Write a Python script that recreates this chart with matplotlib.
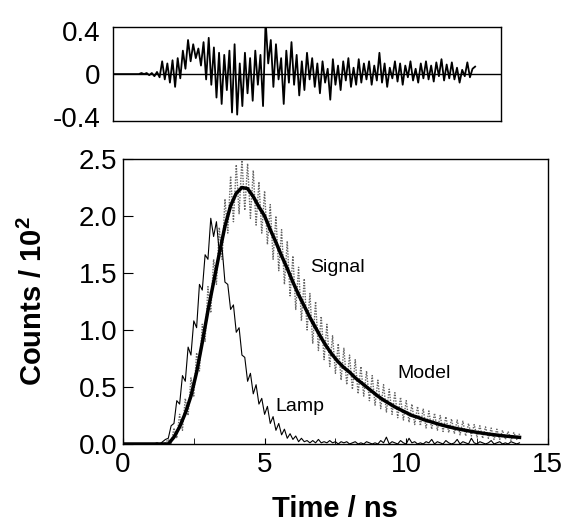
import numpy as np
import matplotlib.pyplot as plt

plt.rcParams['font.family'] = ['Liberation Sans', 'DejaVu Sans']
plt.rcParams['mathtext.fontset'] = 'custom'
plt.rcParams['mathtext.bf'] = 'Liberation Sans:bold'

dt = 0.1  # ns per channel

# lamp profile (counts / 100), one value per 0.1 ns from 0 to 14 ns
lamp = [0, 0, 0, 0, 0, 0, 0, 0, 0, 0,
        0, 0, 0.01, 0, 0.02, 0.04, 0.05, 0.16, 0.18, 0.38,
        0.35, 0.60, 0.55, 0.85, 0.78, 1.08, 1.02, 1.40, 1.35, 1.66,
        1.62, 1.98, 1.82, 1.95, 1.68, 1.72, 1.42, 1.40, 1.18, 1.22,
        0.98, 1.02, 0.78, 0.76, 0.55, 0.62, 0.44, 0.52, 0.35, 0.40,
        0.26, 0.33, 0.18, 0.24, 0.12, 0.18, 0.08, 0.13, 0.05, 0.09,
        0.04, 0.07, 0.02, 0.05, 0.02, 0.03, 0.01, 0.03, 0.01, 0.04,
        0.01, 0.02, 0.01, 0.03, 0.01, 0.02, 0.00, 0.02, 0.01, 0.02,
        0.00, 0.01, 0.02, 0.00, 0.01, 0.00, 0.02, 0.01, 0.00, 0.01,
        0.00, 0.03, 0.01, 0.06, 0.00, 0.02, 0.01, 0.00, 0.03, 0.01,
        0.00, 0.05, 0.01, 0.02, 0.00, 0.01, 0.00, 0.02, 0.01, 0.04,
        0.00, 0.02, 0.01, 0.00, 0.03, 0.01, 0.00, 0.01, 0.04, 0.00,
        0.02, 0.01, 0.00, 0.05, 0.01, 0.00, 0.02, 0.01, 0.00, 0.01,
        0.03, 0.00, 0.01, 0.02, 0.00, 0.01, 0.00, 0.02, 0.01, 0.00,
        0.01]

# measured decay
signal = [0, 0, 0, 0, 0, 0, 0, 0, 0, 0,
          0, 0, 0, 0, 0.01, 0.01, 0.04, 0.00, 0.14, 0.05,
          0.26, 0.12, 0.40, 0.25, 0.58, 0.42, 0.80, 0.64, 1.05, 0.90,
          1.38, 1.15, 1.62, 1.40, 1.90, 1.62, 2.15, 1.85, 2.35, 1.95,
          2.45, 2.02, 2.50, 2.05, 2.46, 1.98, 2.40, 1.92, 2.30, 1.85,
          2.22, 1.75, 2.10, 1.62, 2.00, 1.52, 1.88, 1.40, 1.78, 1.30,
          1.65, 1.18, 1.55, 1.08, 1.45, 1.00, 1.32, 0.88, 1.25, 0.82,
          1.12, 0.74, 1.05, 0.68, 0.95, 0.62, 0.88, 0.56, 0.84, 0.52,
          0.78, 0.48, 0.74, 0.44, 0.68, 0.42, 0.64, 0.38, 0.60, 0.34,
          0.56, 0.31, 0.52, 0.28, 0.48, 0.26, 0.45, 0.23, 0.41, 0.21,
          0.38, 0.19, 0.35, 0.17, 0.33, 0.16, 0.31, 0.14, 0.29, 0.13,
          0.27, 0.12, 0.25, 0.11, 0.24, 0.10, 0.22, 0.09, 0.21, 0.08,
          0.20, 0.07, 0.18, 0.07, 0.17, 0.06, 0.16, 0.05, 0.15, 0.05,
          0.14, 0.04, 0.13, 0.04, 0.12, 0.04, 0.11, 0.03, 0.10, 0.04,
          0.09]

# fitted model, one value per 0.2 ns
model_t = [0.0, 0.2, 0.4, 0.6, 0.8, 1.0, 1.2, 1.4, 1.6, 1.8,
           2.0, 2.2, 2.4, 2.6, 2.8, 3.0, 3.2, 3.4, 3.6, 3.8,
           4.0, 4.2, 4.4, 4.6, 4.8, 5.0, 5.2, 5.4, 5.6, 5.8,
           6.0, 6.2, 6.4, 6.6, 6.8, 7.0, 7.2, 7.4, 7.6, 7.8,
           8.0, 8.2, 8.4, 8.6, 8.8, 9.0, 9.2, 9.4, 9.6, 9.8,
           10.0, 10.2, 10.4, 10.6, 10.8, 11.0, 11.2, 11.4, 11.6, 11.8,
           12.0, 12.2, 12.4, 12.6, 12.8, 13.0, 13.2, 13.4, 13.6, 13.8,
           14.0]
model = [0, 0, 0, 0, 0, 0, 0, 0, 0.0, 0.06,
         0.15, 0.27, 0.42, 0.63, 0.89, 1.17, 1.42, 1.67, 1.91, 2.09,
         2.20, 2.25, 2.24, 2.17, 2.08, 2.00, 1.88, 1.77, 1.65, 1.54,
         1.42, 1.31, 1.21, 1.11, 1.02, 0.93, 0.85, 0.78, 0.72, 0.67,
         0.63, 0.58, 0.54, 0.50, 0.46, 0.42, 0.385, 0.355, 0.325, 0.30,
         0.275, 0.25, 0.235, 0.215, 0.20, 0.185, 0.17, 0.157, 0.145, 0.134,
         0.124, 0.115, 0.106, 0.098, 0.091, 0.084, 0.078, 0.072, 0.067, 0.062,
         0.058]

# weighted residuals
resid = [0, 0, 0, 0, 0, 0, 0, 0, 0, 0,
         0, 0.01, 0, 0.01, -0.01, 0.01, -0.02, 0.02, -0.03, 0.12,
         -0.05, 0.10, -0.08, 0.13, -0.12, 0.15, -0.04, 0.22, 0.05, 0.32,
         0.12, 0.28, 0.15, 0.24, 0.08, 0.30, -0.05, 0.34, -0.10, 0.25,
         -0.22, 0.20, -0.28, 0.18, -0.15, 0.22, -0.36, 0.28, -0.38, 0.10,
         -0.30, 0.20, -0.18, 0.15, -0.25, 0.22, -0.10, 0.18, -0.30, 0.50,
         0.10, 0.32, -0.12, 0.28, -0.05, 0.15, -0.28, 0.22, -0.08, 0.30,
         -0.10, 0.18, -0.20, 0.12, -0.15, 0.20, -0.05, 0.15, -0.12, 0.10,
         -0.18, 0.12, -0.08, 0.05, -0.24, 0.14, -0.10, 0.08, -0.15, 0.12,
         -0.06, 0.15, -0.12, 0.06, -0.10, 0.14, -0.08, 0.10, -0.05, 0.12,
         -0.10, 0.08, -0.06, 0.20, -0.08, 0.10, -0.12, 0.06, -0.04, 0.12,
         -0.07, 0.10, -0.10, 0.08, -0.03, 0.12, -0.06, 0.05, -0.08, 0.10,
         -0.04, 0.12, -0.05, 0.08, -0.07, 0.11, -0.02, 0.14, -0.06, 0.09,
         -0.04, 0.11, -0.05, 0.06, -0.08, 0.04, -0.02, 0.11, -0.03, 0.05,
         0.07]

t_lamp = np.arange(len(lamp)) * dt
t_sig = np.arange(len(signal)) * dt
t_res = np.arange(len(resid)) * dt

fig = plt.figure(figsize=(5.68, 5.30), dpi=100)

# residual panel
ax1 = fig.add_axes([0.199, 0.7717, 0.683, 0.177])
ax1.plot(t_res, resid, color='black', lw=1.3)
ax1.axhline(0, color='black', lw=1.0)
ax1.set_xlim(0, 15)
ax1.set_ylim(-0.44, 0.44)
ax1.set_yticks([-0.4, 0, 0.4])
ax1.set_yticklabels(['-0.4', '0', '0.4'])
ax1.set_xticks([])
ax1.tick_params(axis='y', length=0, pad=9, labelsize=20)

# decay panel
ax2 = fig.add_axes([0.2165, 0.1623, 0.748, 0.5377])
ax2.plot(t_sig, signal, color='0.4', lw=1.0, ls=(0, (1, 1)))
ax2.plot(t_lamp, lamp, color='black', lw=0.8)
ax2.plot(model_t, model, color='black', lw=2.5)
ax2.set_xlim(0, 15)
ax2.set_ylim(0, 2.5)
ax2.set_xticks([0, 5, 10, 15])
ax2.set_xticks([2.5, 7.5, 12.5], minor=True)
ax2.set_yticks([0, 0.5, 1.0, 1.5, 2.0, 2.5])
ax2.set_yticklabels(['0.0', '0.5', '1.0', '1.5', '2.0', '2.5'])
ax2.tick_params(axis='both', which='major', direction='in', labelsize=20)
ax2.tick_params(axis='x', which='both', direction='in', length=4, pad=6)
ax2.tick_params(axis='y', length=7, pad=4)

ax2.text(6.6, 1.55, 'Signal', fontsize=14, va='center')
ax2.text(9.7, 0.62, 'Model', fontsize=14, va='center')
ax2.text(5.37, 0.33, 'Lamp', fontsize=14, va='center')

ax2.set_xlabel('Time / ns', fontsize=21, fontweight='bold', labelpad=12)
ax2.set_ylabel(r'Counts / 10$^\mathbf{2}$', fontsize=21, fontweight='bold', labelpad=22)

for ax in (ax1, ax2):
    for s in ax.spines.values():
        s.set_linewidth(1.0)

fig.savefig('out.png', dpi=100)
